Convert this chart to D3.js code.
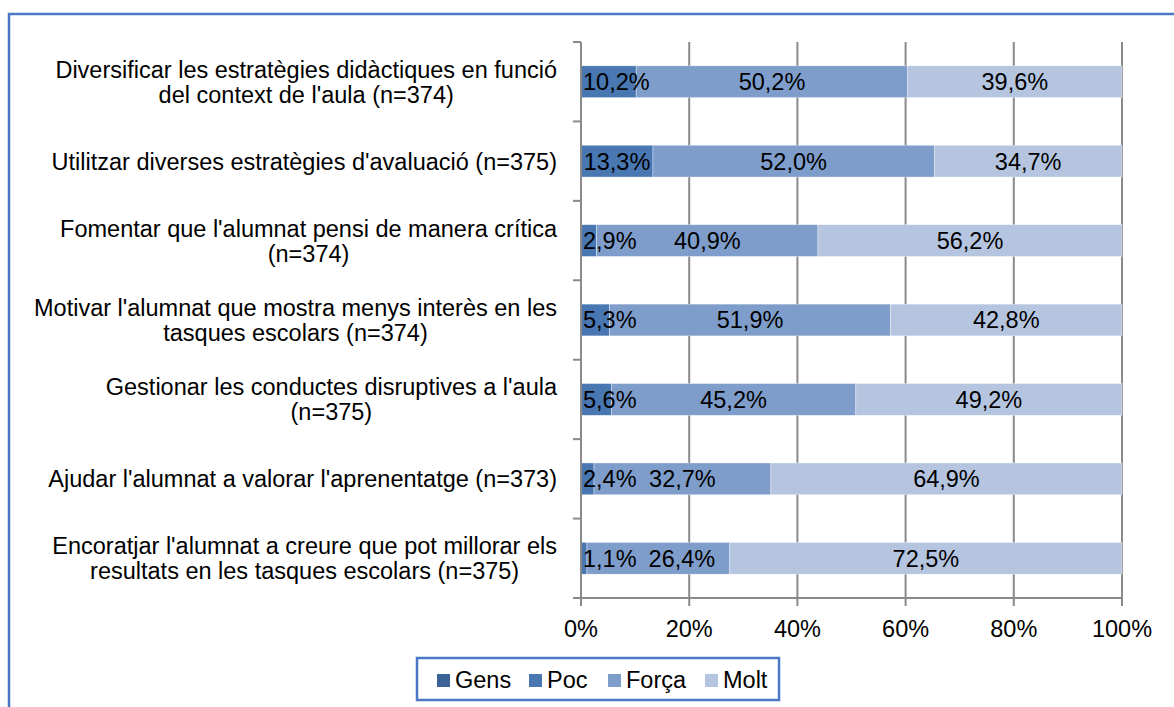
<!DOCTYPE html>
<html>
<head>
<meta charset="utf-8">
<script src="https://cdn.jsdelivr.net/npm/d3@7"></script>
<style>
  html, body { margin: 0; padding: 0; background: #fff; }
  svg { display: block; font-family: "Liberation Sans", Arial, sans-serif; }
</style>
</head>
<body>
<svg id="chart" width="1174" height="707"></svg>
<script>
// --- Data ------------------------------------------------------------------
const categories = [
  "Diversificar les estratègies didàctiques en funció\ndel context de l'aula (n=374)",
  "Utilitzar diverses estratègies d'avaluació (n=375)",
  "Fomentar que l'alumnat pensi de manera crítica\n(n=374)",
  "Motivar l'alumnat que mostra menys interès en les\ntasques escolars (n=374)",
  "Gestionar les conductes disruptives a l'aula\n(n=375)",
  "Ajudar l'alumnat a valorar l'aprenentatge (n=373)",
  "Encoratjar l'alumnat a creure que pot millorar els\nresultats en les tasques escolars (n=375)"
];
const seriesNames = ["Gens", "Poc", "Força", "Molt"];
const gens  = [0, 0, 0, 0, 0, 0, 0];
const poc   = [10.2, 13.3, 2.9, 5.3, 5.6, 2.4, 1.1];
const forca = [50.2, 52.0, 40.9, 51.9, 45.2, 32.7, 26.4];
const molt  = [39.6, 34.7, 56.2, 42.8, 49.2, 64.9, 72.5];
const xTicks = [0, 20, 40, 60, 80, 100];

const colors = ["#3b6396", "#4877b2", "#7e9dca", "#b5c5e0"];

// --- Setup -----------------------------------------------------------------
const svg = d3.select("#chart");
const fontSize = 23.5;
const plot = { left: 581, right: 1122, top: 42, bottom: 598 };

const rows = categories.map((c, i) => ({ cat: c, Gens: gens[i], "Poc": poc[i], "Força": forca[i], "Molt": molt[i] }));
const stack = d3.stack().keys(seriesNames)(rows);

const x = d3.scaleLinear().domain([0, 100]).range([plot.left, plot.right]);
const y = d3.scaleBand().domain(categories).range([plot.top, plot.bottom])
  .paddingInner(0.6).paddingOuter(0.3);
const color = d3.scaleOrdinal().domain(seriesNames).range(colors);

const loc = d3.formatLocale({ decimal: ",", thousands: ".", grouping: [3], currency: ["", "€"] });
const pct = v => loc.format(".1f")(v) + "%";

// outer frame
svg.append("rect")
  .attr("x", 9).attr("y", 14).attr("width", 1200).attr("height", 800)
  .attr("fill", "none").attr("stroke", "#4a78c4").attr("stroke-width", 2.5);

// gridlines
svg.append("g").selectAll("line")
  .data(xTicks.slice(1)).enter().append("line")
  .attr("x1", d => x(d)).attr("x2", d => x(d))
  .attr("y1", plot.top).attr("y2", plot.bottom)
  .attr("stroke", "#8a8a8a").attr("stroke-width", 2);

// bars
const layer = svg.append("g").selectAll("g")
  .data(stack).enter().append("g")
  .attr("fill", d => color(d.key));

layer.selectAll("rect")
  .data(d => d).enter().append("rect")
  .attr("x", d => x(d[0]))
  .attr("width", d => x(d[1]) - x(d[0]))
  .attr("y", d => y(d.data.cat))
  .attr("height", y.bandwidth())
  .attr("stroke", "#fff").attr("stroke-width", 0.6).attr("stroke-opacity", 0.6);

// value labels (Gens has none); small Poc labels sit inside the bar start,
// and the next label is nudged right so they don't collide
const lab = svg.append("g")
  .attr("font-size", fontSize).attr("fill", "#000").attr("text-anchor", "middle");
rows.forEach((r, i) => {
  let prevRight = -Infinity;
  stack.filter(s => s.key !== "Gens").forEach(s => {
    const d = s[i];
    const t = lab.append("text")
      .attr("y", y(r.cat) + y.bandwidth() / 2)
      .attr("dy", "0.36em")
      .text(pct(d[1] - d[0]));
    const w = t.node().getComputedTextLength();
    let cx = (x(d[0]) + x(d[1])) / 2;
    if (s.key === "Poc") cx = Math.max(cx, x(d[0]) + w / 2 + 2);
    else cx = Math.max(cx, prevRight + 12 + w / 2);
    prevRight = cx + w / 2;
    t.attr("x", cx);
  });
});

// y axis
const yAxis = svg.append("g");
yAxis.append("line")
  .attr("x1", plot.left).attr("x2", plot.left)
  .attr("y1", plot.top).attr("y2", plot.bottom)
  .attr("stroke", "#8a8a8a").attr("stroke-width", 2);
const step = y.step();
yAxis.selectAll("line.tick")
  .data(d3.range(categories.length + 1)).enter().append("line")
  .attr("class", "tick")
  .attr("x1", plot.left - 8).attr("x2", plot.left)
  .attr("y1", i => plot.top + i * step).attr("y2", i => plot.top + i * step)
  .attr("stroke", "#8a8a8a").attr("stroke-width", 2);

// category labels, lines centred on each other, block right-aligned
const labelRight = 557;
const lineH = 25;
categories.forEach(c => {
  const lines = c.split("\n");
  const cy = y(c) + y.bandwidth() / 2;
  const g = svg.append("g").attr("font-size", fontSize).attr("fill", "#000");
  const texts = lines.map((l, i) => g.append("text")
    .attr("y", cy + (i - (lines.length - 1) / 2) * lineH)
    .attr("dy", "0.36em")
    .attr("text-anchor", "middle")
    .text(l));
  const maxW = d3.max(texts, t => t.node().getComputedTextLength());
  texts.forEach(t => t.attr("x", labelRight - maxW / 2));
});

// x axis
const xAxis = svg.append("g");
xAxis.append("line")
  .attr("x1", plot.left - 8).attr("x2", plot.right)
  .attr("y1", plot.bottom).attr("y2", plot.bottom)
  .attr("stroke", "#8a8a8a").attr("stroke-width", 2);
xAxis.selectAll("line.tick")
  .data(xTicks).enter().append("line")
  .attr("class", "tick")
  .attr("x1", d => x(d)).attr("x2", d => x(d))
  .attr("y1", plot.bottom).attr("y2", plot.bottom + 8)
  .attr("stroke", "#8a8a8a").attr("stroke-width", 2);
xAxis.selectAll("text")
  .data(xTicks).enter().append("text")
  .attr("x", d => x(d)).attr("y", 629).attr("dy", "0.36em")
  .attr("text-anchor", "middle").attr("font-size", fontSize)
  .text(d => d + "%");

// legend
const legend = svg.append("g");
legend.append("rect")
  .attr("x", 417).attr("y", 658).attr("width", 362).attr("height", 42)
  .attr("fill", "#fff").attr("stroke", "#4a78c4").attr("stroke-width", 2.5);
const legX = [437, 529, 608, 705];
seriesNames.forEach((s, i) => {
  legend.append("rect")
    .attr("x", legX[i]).attr("y", 674).attr("width", 13).attr("height", 13)
    .attr("fill", color(s));
  legend.append("text")
    .attr("x", legX[i] + 18).attr("y", 680).attr("dy", "0.36em")
    .attr("font-size", fontSize)
    .text(s);
});
</script>
</body>
</html>
